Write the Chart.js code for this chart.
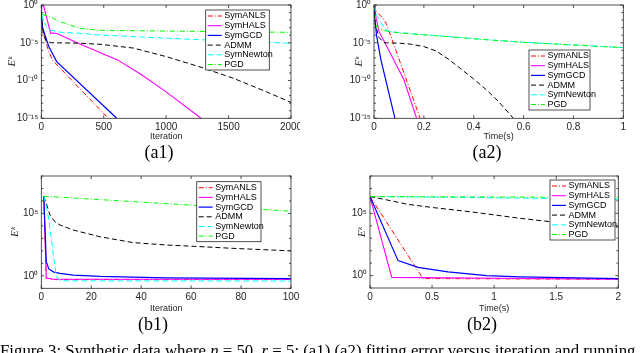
<!DOCTYPE html>
<html lang="en">
<head>
<meta charset="UTF-8">
<title>Synthetic data, n = 50, r = 5</title>
<script src="https://cdn.jsdelivr.net/npm/chart.js@4/dist/chart.umd.min.js"></script>
<style>
  body { margin: 0; background: #fff; }
  .page { position: relative; width: 640px; height: 353px; overflow: hidden; background: #fff; }
  .page canvas { position: absolute; }
  .sub {
    position: absolute; transform: translate(-50%, -50%);
    font-family: 'Liberation Serif', 'Times New Roman', serif; font-size: 18px; line-height: 1;
    color: #000; white-space: nowrap;
  }
  .caption {
    position: absolute; left: 0; top: 342.5px;
    font-family: 'Liberation Serif', 'Times New Roman', serif; font-size: 16.8px; line-height: 1;
    color: #000; white-space: nowrap;
  }
</style>
</head>
<body>
<div class="page">
  <canvas id="a1" width="300" height="146" style="left:0;top:0"></canvas>
  <canvas id="a2" width="310" height="146" style="left:320px;top:0"></canvas>
  <canvas id="b1" width="300" height="149" style="left:0;top:168px"></canvas>
  <canvas id="b2" width="310" height="149" style="left:320px;top:168px"></canvas>
  <div class="sub" style="left:159px;top:152px">(a1)</div>
  <div class="sub" style="left:487px;top:152px">(a2)</div>
  <div class="sub" style="left:153px;top:324px">(b1)</div>
  <div class="sub" style="left:482px;top:324px">(b2)</div>
  <div class="caption">Figure 3: Synthetic data where <i>n</i> = 50, <i>r</i> = 5; (a1) (a2) fitting error versus iteration and running</div>
</div>

<script>
// series names, same order in every panel
const seriesNames = ['SymANLS', 'SymHALS', 'SymGCD', 'ADMM', 'SymNewton', 'PGD'];

// points are [iteration or time, log10(E^k)]
// (a1) error vs iteration
const a1ANLS   = [[0,0],[2,-1.8],[10,-3.3],[60,-6.2],[95,-7.4],[537,-15]];
const a1HALS   = [[0,0],[20,-0.2],[75,-3.75],[100,-3.7],[130,-3.8],[300,-5.1],[470,-6.3],[615,-7.3],[800,-9.2],[1000,-11.5],[1280,-15]];
const a1GCD    = [[0,0],[2,-1.5],[10,-3],[60,-5.5],[123,-7.5],[604,-15]];
const a1ADMM   = [[0,0],[3,-2],[15,-3.8],[40,-4.8],[80,-5.0],[300,-5.05],[470,-5.2],[737,-5.7],[1004,-6.85],[1271,-8.2],[1538,-9.7],[1805,-11.5],[2000,-12.9]];
const a1Newton = [[0,0],[5,-1.5],[40,-2.8],[70,-3.3],[150,-3.6],[310,-3.75],[470,-3.97],[1000,-4.4],[1500,-4.75],[2000,-5.07]];
const a1PGD    = [[0,0],[3,-1.2],[75,-1.6],[150,-2.2],[310,-3.1],[470,-3.35],[1000,-3.45],[2000,-3.62]];

// (a2) error vs time
const a2ANLS   = [[0,0],[0.005,-0.7],[0.037,-1.8],[0.05,-2.5],[0.185,-15]];
const a2HALS   = [[0,0],[0.004,-1.0],[0.02,-3.5],[0.05,-5.4],[0.08,-7.3],[0.12,-9.9],[0.171,-15]];
const a2GCD    = [[0,0],[0.003,-1.5],[0.01,-4],[0.028,-7.3],[0.084,-15]];
const a2ADMM   = [[0,0],[0.005,-2.5],[0.02,-4.3],[0.04,-5.0],[0.1,-5.05],[0.15,-5.2],[0.2,-5.5],[0.25,-6.1],[0.3,-7.2],[0.35,-8.5],[0.4,-9.8],[0.45,-11.2],[0.5,-12.8],[0.559,-15]];
const a2Newton = [[0,0],[0.01,-1.3],[0.03,-2.4],[0.045,-3.2],[0.06,-3.5],[0.1,-3.65],[0.2,-3.93],[0.3,-4.18],[0.45,-4.58],[0.6,-4.93],[0.8,-5.28],[1,-5.63]];
const a2PGD    = [[0,0],[0.01,-2.9],[0.04,-3.4],[0.1,-3.7],[0.2,-3.95],[0.3,-4.2],[0.45,-4.6],[0.6,-4.95],[0.8,-5.3],[1,-5.65]];

// (b1) error vs iteration
const b1ANLS   = [[1,6.38],[2,-0.2],[5,-0.3],[100,-0.3]];
const b1HALS   = [[1,6.38],[2,-0.18],[5,-0.28],[100,-0.28]];
const b1GCD    = [[1,6.38],[2,1.14],[3,0.55],[5,0.3],[7.5,0.2],[12.8,0.06],[23.5,-0.05],[50,-0.17],[100,-0.22]];
const b1ADMM   = [[1,6.38],[2,5.8],[3.5,4.86],[5.5,4.33],[7.5,4.07],[12.8,3.67],[23.5,3.13],[36.8,2.66],[50.2,2.47],[63.5,2.34],[76.9,2.2],[100,2.0]];
const b1Newton = [[1,6.38],[2,5.6],[3,4.5],[4,3.0],[5,1.4],[6,0.0],[7,-0.3],[8,-0.4],[100,-0.42]];
const b1PGD    = [[1,6.38],[100,5.18]];

// (b2) error vs time
const b2ANLS   = [[0,6.35],[0.427,-0.24],[2,-0.3]];
const b2HALS   = [[0,6.35],[0.175,-0.15],[2,-0.3]];
const b2GCD    = [[0,6.35],[0.226,1.2],[0.387,0.66],[0.628,0.3],[0.94,0.0],[1.21,-0.1],[2,-0.24]];
const b2ADMM   = [[0,6.35],[0.145,6.06],[0.306,5.72],[0.52,5.45],[0.805,5.13],[1.21,4.6],[1.45,4.33],[2,3.9]];
const b2Newton = [[0,6.35],[1,6.25],[2,6.12]];
const b2PGD    = [[0,6.35],[2,6.28]];

// axis ticks
const a1XTicks = [0, 500, 1000, 1500, 2000];
const a2XTicks = [0, 0.2, 0.4, 0.6, 0.8, 1];
const b1XTicks = [0, 20, 40, 60, 80, 100];
const b2XTicks = [0, 0.5, 1, 1.5, 2];
const aYDecades = [0, -1, -2, -3, -4, -5, -6, -7, -8, -9, -10, -11, -12, -13, -14, -15];
const aYLabelled = [0, -5, -10, -15];
const bYDecades = [-1, 0, 1, 2, 3, 4, 5, 6, 7, 8];
const bYLabelled = [0, 5];

const styles = [
    { color: '#ff0000', dash: [5, 2, 1, 2], width: 1 },
    { color: '#ff00ff', dash: [], width: 1.1 },
    { color: '#0000ff', dash: [], width: 1.2 },
    { color: '#000000', dash: [5, 3], width: 1 },
    { color: '#00ffff', dash: [6, 3], width: 1 },
    { color: '#00ff00', dash: [5, 2, 1, 2], width: 1 }
];
const axisColor = '#262626';

const supMap = { '-': '⁻', '0': '⁰', '1': '¹', '2': '²', '3': '³', '4': '⁴', '5': '⁵', '6': '⁶', '7': '⁷', '8': '⁸', '9': '⁹' };
function pow10Label(d) {
    return '10' + String(d).split('').map(c => supMap[c]).join('');
}

// box round the plot, inward ticks and the legend inside the axes
const framePlugin = {
    id: 'frame',
    afterDraw(chart, args, opts) {
        const ctx = chart.ctx;
        const a = chart.chartArea;
        const xs = chart.scales.x, ys = chart.scales.y;
        ctx.save();
        ctx.strokeStyle = axisColor;
        ctx.lineWidth = 0.8;
        ctx.setLineDash([]);
        ctx.strokeRect(a.left, a.top, a.right - a.left, a.bottom - a.top);
        ctx.beginPath();
        xs.ticks.forEach(t => {
            const px = xs.getPixelForValue(t.value);
            ctx.moveTo(px, a.bottom); ctx.lineTo(px, a.bottom - 3);
            ctx.moveTo(px, a.top); ctx.lineTo(px, a.top + 3);
        });
        ys.ticks.forEach(t => {
            const py = ys.getPixelForValue(t.value);
            const len = opts.labelled.includes(Math.round(Math.log10(t.value))) ? 3 : 2;
            ctx.moveTo(a.left, py); ctx.lineTo(a.left + len, py);
            ctx.moveTo(a.right, py); ctx.lineTo(a.right - len, py);
        });
        ctx.stroke();

        // legend
        const L = opts.legend;
        ctx.fillStyle = '#fff';
        ctx.fillRect(L.x, L.y, L.w, L.h);
        ctx.strokeStyle = axisColor;
        ctx.lineWidth = 0.8;
        ctx.strokeRect(L.x, L.y, L.w, L.h);
        ctx.font = '9px "Liberation Sans", Arial, sans-serif';
        ctx.textBaseline = 'middle';
        ctx.textAlign = 'left';
        chart.data.datasets.forEach((ds, i) => {
            const yy = L.y + 6 + i * 9.7;
            ctx.strokeStyle = ds.borderColor;
            ctx.lineWidth = ds.borderWidth;
            ctx.setLineDash(ds.borderDash);
            ctx.beginPath();
            ctx.moveTo(L.x + 2, yy); ctx.lineTo(L.x + 16, yy);
            ctx.stroke();
            ctx.setLineDash([]);
            ctx.fillStyle = '#000';
            ctx.fillText(ds.label, L.x + 18.5, yy);
        });
        ctx.restore();
    }
};

function makeChart(id, cfg) {
    const canvas = document.getElementById(id);
    const W = canvas.width, H = canvas.height;
    const area = cfg.area;
    const tickFont = { family: '"Liberation Sans", Arial, sans-serif', size: 10 };
    const yLo = Math.min(...cfg.yDecades), yHi = Math.max(...cfg.yDecades);
    new Chart(canvas, {
        type: 'line',
        data: {
            datasets: cfg.series.map((pts, i) => ({
                label: seriesNames[i],
                data: pts.map(p => ({ x: p[0], y: Math.pow(10, p[1]) })),
                borderColor: styles[i].color,
                borderDash: styles[i].dash,
                borderWidth: styles[i].width,
                pointRadius: 0,
                fill: false,
                tension: 0,
                order: -i
            }))
        },
        options: {
            responsive: false,
            animation: false,
            events: [],
            layout: { autoPadding: false, padding: { left: 0, top: area.t, right: W - area.r, bottom: 0 } },
            plugins: {
                legend: { display: false },
                tooltip: { enabled: false },
                frame: { legend: cfg.legend, labelled: cfg.yLabelled }
            },
            scales: {
                x: {
                    type: 'linear',
                    min: cfg.xTicks[0],
                    max: cfg.xTicks[cfg.xTicks.length - 1],
                    afterBuildTicks: s => { s.ticks = cfg.xTicks.map(v => ({ value: v })); },
                    afterFit: s => { s.height = H - area.b; s.paddingLeft = 0; s.paddingRight = 0; },
                    grid: { display: false, drawTicks: false },
                    border: { display: false },
                    ticks: { font: tickFont, color: axisColor, padding: 3, autoSkip: false, maxRotation: 0, callback: v => String(v) },
                    title: { display: true, text: cfg.xTitle, color: axisColor,
                             font: { family: '"Liberation Sans", Arial, sans-serif', size: 9 },
                             padding: { top: 0, bottom: cfg.xTitlePad } }
                },
                y: {
                    type: 'logarithmic',
                    min: Math.pow(10, yLo),
                    max: Math.pow(10, yHi),
                    afterBuildTicks: s => { s.ticks = cfg.yDecades.map(d => ({ value: Math.pow(10, d) })); },
                    afterFit: s => { s.width = area.l; s.paddingTop = 0; s.paddingBottom = 0; },
                    grid: { display: false, drawTicks: false },
                    border: { display: false },
                    ticks: {
                        font: tickFont, color: axisColor, padding: 3, autoSkip: false,
                        callback: v => {
                            const d = Math.round(Math.log10(v));
                            return cfg.yLabelled.includes(d) ? pow10Label(d) : '';
                        }
                    },
                    title: { display: true, text: 'Eᵏ', color: axisColor,
                             font: { family: '"Liberation Serif", "DejaVu Serif", serif', style: 'italic', size: 11 },
                             padding: { top: cfg.yTitlePad, bottom: 0 } }
                }
            }
        },
        plugins: [framePlugin]
    });
}

makeChart('a1', {
    series: [a1ANLS, a1HALS, a1GCD, a1ADMM, a1Newton, a1PGD],
    area: { l: 41.3, t: 5, r: 291, b: 118.3 },
    xTicks: a1XTicks, yDecades: aYDecades, yLabelled: aYLabelled,
    xTitle: 'Iteration', xTitlePad: 3.6, yTitlePad: 5.5,
    legend: { x: 205.7, y: 10, w: 63.6, h: 60 }
});
makeChart('a2', {
    series: [a2ANLS, a2HALS, a2GCD, a2ADMM, a2Newton, a2PGD],
    area: { l: 54, t: 5, r: 303.3, b: 118.3 },
    xTicks: a2XTicks, yDecades: aYDecades, yLabelled: aYLabelled,
    xTitle: 'Time(s)', xTitlePad: 3.6, yTitlePad: 33,
    legend: { x: 209, y: 50, w: 61, h: 60 }
});
makeChart('b1', {
    series: [b1ANLS, b1HALS, b1GCD, b1ADMM, b1Newton, b1PGD],
    area: { l: 41.3, t: 8, r: 291, b: 120.3 },
    xTicks: b1XTicks, yDecades: bYDecades, yLabelled: bYLabelled,
    xTitle: 'Iteration', xTitlePad: 3.3, yTitlePad: 8.5,
    legend: { x: 196.7, y: 13.7, w: 64.3, h: 60 }
});
makeChart('b2', {
    series: [b2ANLS, b2HALS, b2GCD, b2ADMM, b2Newton, b2PGD],
    area: { l: 50, t: 8, r: 298.3, b: 120 },
    xTicks: b2XTicks, yDecades: bYDecades, yLabelled: bYLabelled,
    xTitle: 'Time(s)', xTitlePad: 3.3, yTitlePad: 36,
    legend: { x: 230, y: 12, w: 65, h: 60 }
});
</script>
</body>
</html>
